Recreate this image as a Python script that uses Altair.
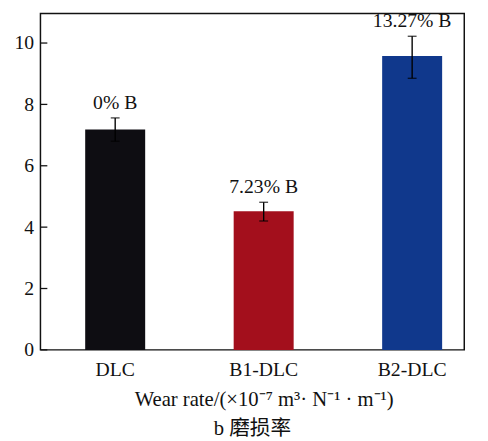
import altair as alt
import pandas as pd

samples = ["DLC", "B1-DLC", "B2-DLC"]
wear = [7.18, 4.52, 9.58]
err_low = [6.80, 4.20, 8.85]
err_high = [7.56, 4.81, 10.22]
boron = ["0% B", "7.23% B", "13.27% B"]
colors = ["#0e0d12", "#a30f1c", "#10388c"]
y_ticks = [0, 2, 4, 6, 8, 10]

df = pd.DataFrame({"sample": samples, "wear": wear, "lo": err_low,
                   "hi": err_high, "label": boron})
ticks_df = pd.DataFrame({"t": y_ticks})

FONT = "Liberation Serif"
W, H = 431, 342

xs = alt.Scale(domain=samples, range=[45.5, 408.5], paddingInner=0.596, paddingOuter=0)
ys = alt.Scale(domain=[0, 10.96], nice=False, zero=True)

x_enc = alt.X("sample:N", scale=xs, sort=samples,
              axis=alt.Axis(title="Wear rate/(×10⁻⁷ m³· N⁻¹ · m⁻¹)", labelAngle=0,
                            domain=False, ticks=False, labelPadding=10,
                            titlePadding=10))
y_ax = alt.Axis(title=None, values=y_ticks, domain=False, ticks=False, tickSize=0,
                labelPadding=7, grid=False)

bars = alt.Chart(df).mark_bar(size=61).encode(
    x=x_enc,
    y=alt.Y("wear:Q", scale=ys, axis=y_ax),
    color=alt.Color("sample:N", scale=alt.Scale(domain=samples, range=colors), legend=None),
)

rules = alt.Chart(df).mark_rule(color="#000", strokeWidth=1.4).encode(
    x=alt.X("sample:N", scale=xs, sort=samples),
    y=alt.Y("lo:Q", scale=ys),
    y2="hi:Q",
)
caps_hi = alt.Chart(df).mark_tick(color="#000", size=9, thickness=1.4, orient="horizontal").encode(
    x=alt.X("sample:N", scale=xs, sort=samples),
    y=alt.Y("hi:Q", scale=ys),
)
caps_lo = alt.Chart(df).mark_tick(color="#000", size=9, thickness=1.4, orient="horizontal").encode(
    x=alt.X("sample:N", scale=xs, sort=samples),
    y=alt.Y("lo:Q", scale=ys),
)
texts = alt.Chart(df).mark_text(font=FONT, fontSize=20, baseline="bottom", dy=-5,
                                color="#111").encode(
    x=alt.X("sample:N", scale=xs, sort=samples),
    y=alt.Y("hi:Q", scale=ys),
    text="label:N",
)
yticks = alt.Chart(ticks_df).mark_rule(color="#111", strokeWidth=1.3).encode(
    y=alt.Y("t:Q", scale=ys),
    x=alt.value(0),
    x2=alt.value(7),
)

chart = alt.layer(bars, rules, caps_hi, caps_lo, texts, yticks).properties(
    width=W, height=H,
    title=alt.TitleParams("b 磨损率", orient="bottom", font=f"{FONT}, Noto Sans CJK SC",
                          fontSize=21, fontWeight="normal", color="#111", offset=9),
    autosize=alt.AutoSizeParams(type="none"),
    padding={"left": 33, "top": 2, "right": 16, "bottom": 89},
).configure_view(
    stroke="#111", strokeWidth=1.5
).configure_axis(
    labelFont=FONT, labelFontSize=20, labelColor="#111",
    titleFont=FONT, titleFontSize=21, titleFontWeight="normal", titleColor="#111",
)

chart.save("out.html", embed_options={"renderer": "svg", "actions": False})
